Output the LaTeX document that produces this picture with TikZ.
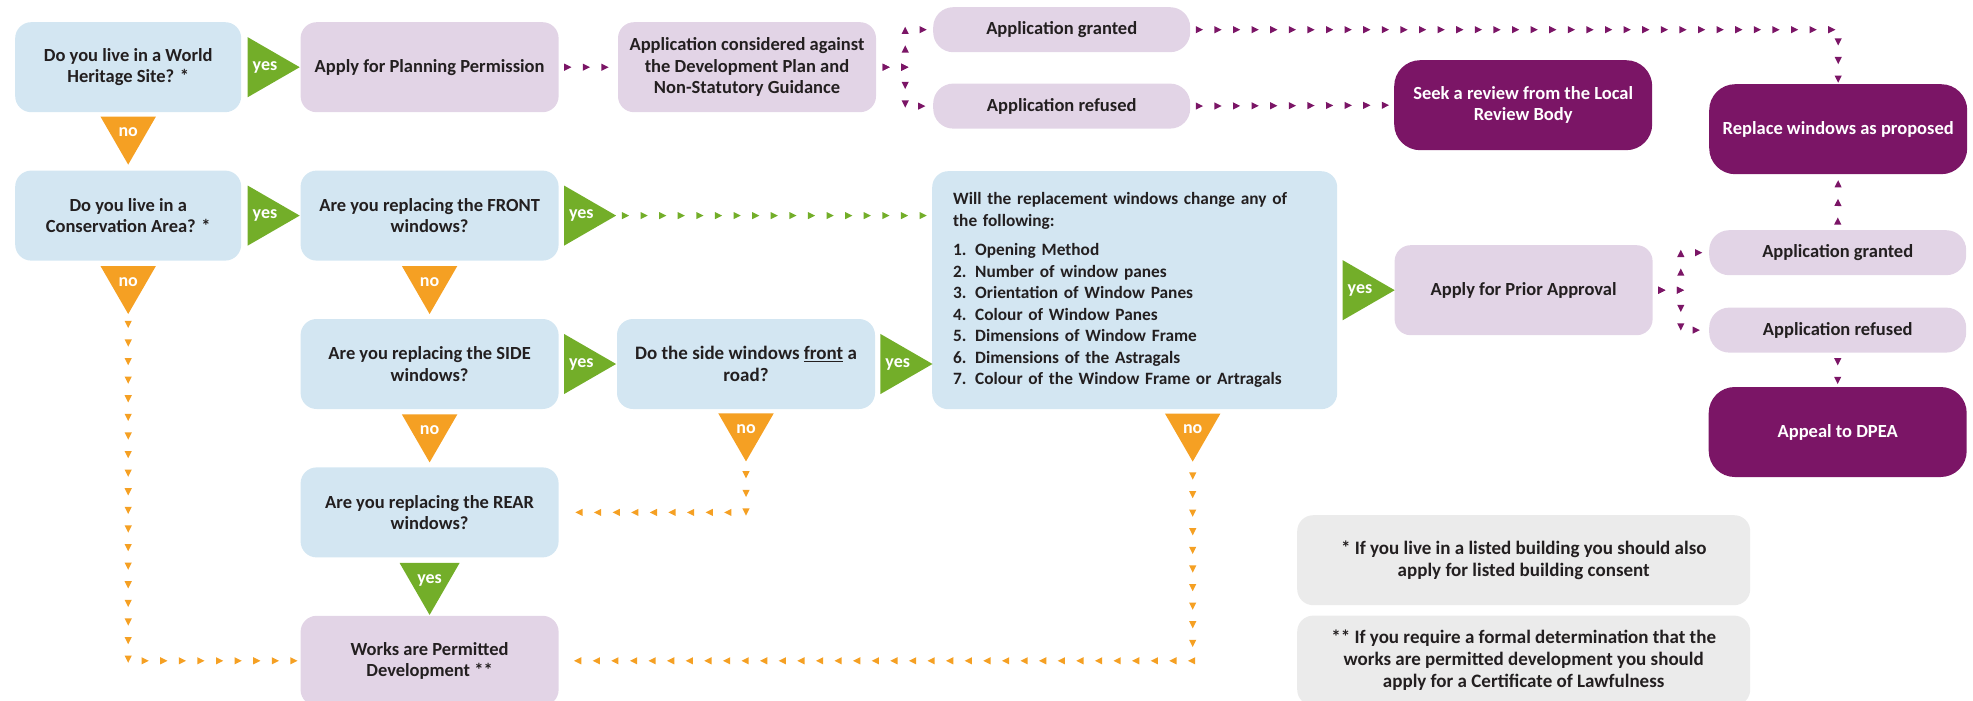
\documentclass[tikz,border=0pt]{standalone}
\usepackage{fontspec}
\setmainfont{Carlito}
\usetikzlibrary{shapes.geometric, positioning, decorations.markings}

\definecolor{qblue}{RGB}{211,230,242}
\definecolor{lilac}{RGB}{226,212,230}
\definecolor{plum}{RGB}{123,21,102}
\definecolor{leaf}{RGB}{115,174,41}
\definecolor{amber}{RGB}{245,160,35}
\definecolor{mist}{RGB}{235,235,235}
\definecolor{ink}{RGB}{35,31,32}

\begin{document}
\begin{tikzpicture}[
    x=1pt, y=1pt,
    font=\bfseries\fontsize{18.5}{21.5}\selectfont,
    box/.style={rectangle, rounded corners=16pt, minimum height=90pt, minimum width=258pt, align=center, inner sep=4pt, text=ink},
    qbox/.style={box, fill=qblue},
    abox/.style={box, fill=lilac},
    endbox/.style={box, fill=plum, text=white, rounded corners=26pt},
    slim/.style={box, fill=lilac, minimum height=45pt, minimum width=257pt, rounded corners=20pt},
    note/.style={box, fill=mist, minimum width=453pt, font=\bfseries\fontsize{19}{22}\selectfont},
    tri/.style={regular polygon, regular polygon sides=3, minimum size=64pt, inner sep=0pt, text=white, font=\bfseries\fontsize{18}{18}\selectfont},
    yesr/.style={tri, fill=leaf, shape border rotate=-90},
    yesd/.style={tri, fill=leaf, shape border rotate=180},
    nod/.style={tri, fill=amber, shape border rotate=180},
    trail/.style 2 args={decorate, decoration={markings, mark=between positions #2 and -2pt step 18.6pt with {\fill[#1] (3.6,0) -- (-3.6,3.6) -- (-3.6,-3.6) -- cycle;}}}
]
\useasboundingbox (0,0) rectangle (1973,-701);
\clip (0,0) rectangle (1973,-701);

% Questions, left column
\node[qbox, minimum width=226pt, anchor=north west] (heritage) at (15,-22) {Do you live in a World\\Heritage Site? *};
\node[qbox, minimum width=226pt, below=58pt of heritage] (conservation) {Do you live in a\\Conservation Area? *};

% Planning permission route
\node[abox, right=59pt of heritage] (planning) {Apply for Planning Permission};
\node[abox, right=59pt of planning] (considered) {Application considered against\\the Development Plan and\\Non-Statutory Guidance};
\node[slim, anchor=north west] (granted) at (933,-7) {Application granted};
\node[slim, below=31pt of granted] (refused) {Application refused};
\node[endbox, anchor=north west] (seek) at (1394,-60) {Seek a review from the Local\\Review Body};
\node[endbox, anchor=north west] (replace) at (1709,-84) {Replace windows as proposed};

% Window questions
\node[qbox, right=59pt of conservation] (front) {Are you replacing the FRONT\\windows?};
\node[qbox, below=58pt of front] (side) {Are you replacing the SIDE\\windows?};
\node[qbox, right=58pt of side, font=\bfseries\fontsize{19}{21.5}\selectfont] (road) {Do the side windows \underline{front} a\\road?};
\node[qbox, below=58pt of side] (rear) {Are you replacing the REAR\\windows?};
\node[abox, below=58pt of rear] (works) {Works are Permitted\\Development **};
\node[qbox, anchor=north west, minimum width=405pt, minimum height=238pt, text width=363pt, inner xsep=21pt, align=left, font=\bfseries\fontsize{17.3}{21.5}\selectfont] (list) at (932,-171) {Will the replacement windows change any of\\the following:\\[8pt]
\makebox[22pt][l]{1.}Opening Method\\
\makebox[22pt][l]{2.}Number of window panes\\
\makebox[22pt][l]{3.}Orientation of Window Panes\\
\makebox[22pt][l]{4.}Colour of Window Panes\\
\makebox[22pt][l]{5.}Dimensions of Window Frame\\
\makebox[22pt][l]{6.}Dimensions of the Astragals\\
\makebox[22pt][l]{7.}Colour of the Window Frame or Artragals};

% Prior approval route
\node[abox, right=57pt of list] (prior) {Apply for Prior Approval};
\node[slim, anchor=north west] (granted2) at (1709,-230) {Application granted};
\node[slim, below=32pt of granted2] (refused2) {Application refused};
\node[endbox, below=34pt of refused2] (appeal) {Appeal to DPEA};

% Footnotes
\node[note, anchor=north west] (note1) at (1297,-515) {* If you live in a listed building you should also\\apply for listed building consent};
\node[note, below=10pt of note1] (note2) {** If you require a formal determination that the\\works are permitted development you should\\apply for a Certificate of Lawfulness};

% yes / no markers
\node[yesr, right=6pt of heritage] (yes1) {yes};
\node[nod, below=4pt of heritage] (no1) {no};
\node[yesr, right=6pt of conservation] (yes2) {yes};
\node[nod, below=5pt of conservation] (no2) {no};
\node[yesr, right=5pt of front] (yes3) {yes};
\node[nod, below=5pt of front] (no3) {no};
\node[yesr, right=5pt of side] (yes4) {yes};
\node[nod, below=5pt of side] (no4) {no};
\node[yesr, right=5pt of road] (yes5) {yes};
\node[nod, below=4pt of road] (no5) {no};
\node[yesd, below=5pt of rear] (yes6) {yes};
\node[yesr, right=5pt of list] (yes7) {yes};
\node[nod, below=4pt of list.south, xshift=58pt] (no6) {no};

% Trails
\path[trail={plum}{9pt}] (planning.east) -- (considered.west);
\path[trail={plum}{10pt}] (considered.east) -- ++(29,0) |- (granted.west);
\path[trail={plum}{10pt}] (considered.east) -- ++(29,0) |- (refused.west);
\path[trail={plum}{9pt}] (granted.east) -| (replace.north);
\path[trail={plum}{9pt}] (refused.east) -- (seek.west);
\path[trail={plum}{9pt}] (prior.east) -- ++(28,0) |- (granted2.west);
\path[trail={plum}{9pt}] (prior.east) -- ++(28,0) |- (refused2.west);
\path[trail={plum}{9pt}] (granted2.north) -- (replace.south);
\path[trail={plum}{9pt}] (refused2.south) -- (appeal.north);
\path[trail={leaf}{9pt}] (yes3.east) -- (yes3.east -| list.west);
\path[trail={amber}{10pt}] (no2.south) |- (works.west);
\path[trail={amber}{13pt}] (no5.south) |- (rear.east);
\path[trail={amber}{14pt}] (no6.south) |- (works.east);

\end{tikzpicture}
\end{document}
